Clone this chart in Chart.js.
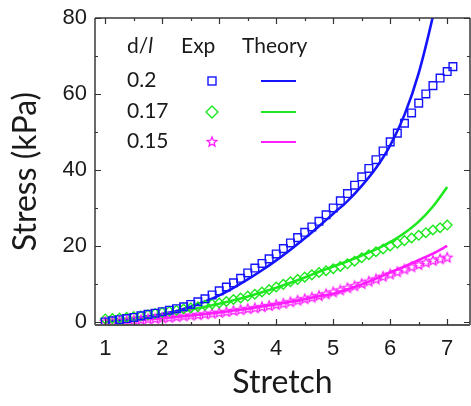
<!DOCTYPE html>
<html>
<head>
<meta charset="utf-8">
<script src="https://cdn.jsdelivr.net/npm/chart.js@4.4.1/dist/chart.umd.min.js"></script>
<style>
  html, body { margin: 0; padding: 0; background: #fff; }
  #wrap { position: relative; width: 471px; height: 406px; }
</style>
</head>
<body>
<div id="wrap"><canvas id="c" width="471" height="406"></canvas></div>
<script>
// ---------- data ----------
const stretchExp = [1.0,1.125,1.25,1.375,1.5,1.625,1.75,1.875,2.0,2.125,2.25,2.375,2.5,2.625,2.75,2.875,
  3.0,3.125,3.25,3.375,3.5,3.625,3.75,3.875,4.0,4.125,4.25,4.375,4.5,4.625,4.75,4.875,
  5.0,5.125,5.25,5.375,5.5,5.625,5.75,5.875,6.0,6.125,6.25,6.375,6.5,6.625,6.75,6.875,7.0];
const stretchBlue = [1.0,1.125,1.25,1.375,1.5,1.625,1.75,1.875,2.0,2.125,2.25,2.375,2.5,2.625,2.75,2.875,
  3.0,3.125,3.25,3.375,3.5,3.625,3.75,3.875,4.0,4.125,4.25,4.375,4.5,4.625,4.75,4.875,
  5.0,5.125,5.25,5.375,5.5,5.625,5.75,5.875,6.0,6.125,6.25,6.375,6.5,6.625,6.75,6.875,7.0,7.1];
const expBlue = [0.0,0.3,0.6,0.9,1.2,1.6,2.0,2.3,2.7,3.1,3.5,4.0,4.6,5.3,6.1,7.1,
  8.2,9.2,10.3,11.5,12.9,14.2,15.4,16.6,17.9,19.3,20.8,22.2,23.6,25.0,26.5,28.2,
  30.0,31.9,33.8,36.0,38.2,40.4,42.7,45.0,47.4,49.7,52.3,55.0,57.6,60.0,62.2,64.2,65.9,67.2];
const expGreen = [0.8,0.9,1.0,1.2,1.4,1.6,1.9,2.2,2.5,2.8,3.1,3.4,3.7,4.0,4.4,4.7,
  5.0,5.4,5.9,6.3,6.8,7.3,7.9,8.5,9.2,9.9,10.6,11.2,11.8,12.4,13.0,13.5,
  14.0,14.6,15.3,16.0,16.9,17.7,18.5,19.2,20.0,20.7,21.4,22.1,22.8,23.5,24.2,24.8,25.5];
const expMagenta = [0.0,0.1,0.2,0.3,0.4,0.5,0.7,0.8,1.0,1.1,1.3,1.5,1.7,1.8,2.0,2.2,
  2.4,2.6,2.9,3.1,3.4,3.6,3.9,4.2,4.5,4.8,5.2,5.6,6.0,6.4,6.8,7.3,
  7.8,8.3,8.9,9.4,10.0,10.6,11.2,11.9,12.5,13.1,13.8,14.4,15.0,15.6,16.1,16.5,16.9];

const stretchTheory = [1.0,1.25,1.5,1.75,2.0,2.25,2.5,2.75,3.0,3.25,3.5,3.75,4.0,4.25,4.5,4.75,
  5.0,5.25,5.5,5.75,6.0,6.25,6.5,6.75,7.0];
const theoryBlue = [0.0,0.3,0.8,1.4,2.1,2.9,4.0,5.4,7.0,9.0,11.2,13.6,16.2,19.0,22.0,25.2,
  28.5,31.8,35.8,40.5,46.5,54.5,65.5,80.5,98.0];
const theoryGreen = [0.3,0.6,1.0,1.5,2.1,2.7,3.3,4.0,4.8,5.7,6.7,7.8,9.0,10.3,11.7,13.2,
  14.6,16.0,17.5,19.1,21.0,23.4,26.4,30.4,35.5];
const theoryMagenta = [0.0,0.2,0.4,0.7,1.0,1.3,1.7,2.1,2.5,3.0,3.5,4.1,4.7,5.3,6.0,6.8,
  7.4,8.6,9.9,11.4,13.0,14.6,16.3,18.0,20.0];

const ratioLabels = ['0.2', '0.17', '0.15'];
const xTicks = [1, 2, 3, 4, 5, 6, 7];
const yTicks = [0, 20, 40, 60, 80];
const X_MIN = 0.82, X_MAX = 7.4, Y_MIN = -0.8, Y_MAX = 80;

// ---------- styles ----------
const BLUE = '#1414ff', GREEN = '#1ee81e', MAGENTA = '#ff1eff';
const TEXT = '#1a1a1a';

function starCanvas(color, r) {
  const s = Math.ceil(2 * r + 4);
  const c = document.createElement('canvas');
  c.width = s; c.height = s;
  const g = c.getContext('2d');
  g.strokeStyle = color; g.lineWidth = 1.3; g.lineJoin = 'miter';
  g.beginPath();
  for (let i = 0; i < 10; i++) {
    const rr = i % 2 === 0 ? r : r * 0.45;
    const a = -Math.PI / 2 + i * Math.PI / 5;
    const px = s / 2 + rr * Math.cos(a), py = s / 2 + rr * Math.sin(a);
    i === 0 ? g.moveTo(px, py) : g.lineTo(px, py);
  }
  g.closePath(); g.stroke();
  return c;
}
const starImg = starCanvas(MAGENTA, 5);

const pts = (xs, ys) => xs.map((x, i) => ({ x: x, y: ys[i] }));

const theoryStyle = (color) => ({
  showLine: true, pointRadius: 0, borderColor: color, backgroundColor: color,
  borderWidth: 2.6, cubicInterpolationMode: 'monotone', clip: { left: 2, right: 2, top: 0, bottom: 4 }
});
const expStyle = (color, style, r) => ({
  showLine: false, pointStyle: style, pointRadius: r, pointBorderColor: color,
  pointBackgroundColor: 'rgba(0,0,0,0)', pointBorderWidth: 1.4, borderColor: color
});

// ---------- plugins ----------
const frame = {
  id: 'frame',
  afterDraw(chart) {
    const { ctx, chartArea: a, scales } = chart;
    const xs = scales.x, ys = scales.y;
    ctx.save();
    ctx.strokeStyle = '#3a3a3a';
    ctx.lineWidth = 1.5;
    ctx.beginPath();
    ctx.moveTo(a.left, a.top); ctx.lineTo(a.right, a.top);
    ctx.moveTo(a.left, a.top); ctx.lineTo(a.left, a.bottom);
    ctx.moveTo(a.right, a.top); ctx.lineTo(a.right, a.bottom);
    ctx.stroke();
    ctx.strokeStyle = '#555';
    ctx.lineWidth = 2;
    ctx.beginPath();
    ctx.moveTo(a.left, a.bottom); ctx.lineTo(a.right, a.bottom);
    ctx.stroke();
    // inward ticks
    ctx.strokeStyle = '#333'; ctx.lineWidth = 1.2;
    ctx.beginPath();
    for (let v = 1; v <= 7.01; v += 0.5) {
      const px = Math.round(xs.getPixelForValue(v)) + 0.5;
      const L = Number.isInteger(v) ? 6 : 3;
      ctx.moveTo(px, a.bottom); ctx.lineTo(px, a.bottom - L);
      ctx.moveTo(px, a.top); ctx.lineTo(px, a.top + L);
    }
    for (let v = 0; v <= 80; v += 10) {
      const py = Math.round(ys.getPixelForValue(v)) + 0.5;
      const L = v % 20 === 0 ? 6 : 3;
      ctx.moveTo(a.left, py); ctx.lineTo(a.left + L, py);
      ctx.moveTo(a.right, py); ctx.lineTo(a.right - L, py);
    }
    ctx.stroke();
    ctx.restore();
  }
};

const customLegend = {
  id: 'customLegend',
  afterDraw(chart) {
    const { ctx, chartArea: a } = chart;
    const ox = a.left, oy = a.top;
    ctx.save();
    ctx.fillStyle = TEXT;
    ctx.textBaseline = 'alphabetic';
    ctx.textAlign = 'left';
    ctx.font = '21px Lato';
    ctx.fillText('d/', ox + 32, oy + 35);
    const w = ctx.measureText('d/').width;
    ctx.font = 'italic 21px Lato';
    ctx.fillText('l', ox + 32 + w, oy + 35);
    ctx.font = '21px Lato';
    ctx.fillText('Exp', ox + 86, oy + 35);
    ctx.fillText('Theory', ox + 147, oy + 35);
    const rowsY = [69, 100, 130];
    const colors = [BLUE, GREEN, MAGENTA];
    ratioLabels.forEach((lab, i) => {
      ctx.fillStyle = TEXT;
      ctx.fillText(lab, ox + 32, oy + rowsY[i]);
      const my = oy + rowsY[i] - 6;
      const mx = ox + 117;
      ctx.strokeStyle = colors[i];
      ctx.lineWidth = 1.4;
      if (i === 0) {
        ctx.strokeRect(mx - 4, my - 4, 8, 8);
      } else if (i === 1) {
        ctx.beginPath();
        ctx.moveTo(mx, my - 6); ctx.lineTo(mx + 6, my); ctx.lineTo(mx, my + 6); ctx.lineTo(mx - 6, my);
        ctx.closePath(); ctx.stroke();
      } else {
        ctx.drawImage(starImg, mx - starImg.width / 2, my - starImg.height / 2);
      }
      ctx.lineWidth = 2.2;
      ctx.beginPath();
      ctx.moveTo(ox + 166, my); ctx.lineTo(ox + 201, my);
      ctx.stroke();
    });
    ctx.restore();
  }
};

// ---------- chart ----------
new Chart(document.getElementById('c'), {
  type: 'scatter',
  data: {
    datasets: [
      Object.assign({ label: 'Exp 0.2', data: pts(stretchBlue, expBlue) }, expStyle(BLUE, 'rect', 5.4)),
      Object.assign({ label: 'Exp 0.17', data: pts(stretchExp, expGreen) }, expStyle(GREEN, 'rectRot', 4.8)),
      Object.assign({ label: 'Exp 0.15', data: pts(stretchExp, expMagenta) }, expStyle(MAGENTA, starImg, 5)),
      Object.assign({ label: 'Theory 0.2', data: pts(stretchTheory, theoryBlue) }, theoryStyle(BLUE)),
      Object.assign({ label: 'Theory 0.17', data: pts(stretchTheory, theoryGreen) }, theoryStyle(GREEN)),
      Object.assign({ label: 'Theory 0.15', data: pts(stretchTheory, theoryMagenta) }, theoryStyle(MAGENTA))
    ]
  },
  options: {
    responsive: false,
    animation: false,
    events: [],
    layout: { autoPadding: false, padding: { top: 18, right: 1, left: 0, bottom: 0 } },
    plugins: { legend: { display: false }, tooltip: { enabled: false } },
    scales: {
      x: {
        type: 'linear', min: X_MIN, max: X_MAX,
        grid: { display: false, drawTicks: false },
        border: { display: false },
        afterBuildTicks: s => { s.ticks = [X_MIN].concat(xTicks, [X_MAX]).map(v => ({ value: v })); },
        afterFit: s => { s.height = 81; s.paddingLeft = 0; s.paddingRight = 0; },
        ticks: {
          padding: 11, color: TEXT, font: { family: 'Liberation Sans', size: 22 }, maxRotation: 0, autoSkip: false,
          callback: v => xTicks.includes(v) ? String(v) : ''
        },
        title: { display: true, text: 'Stretch', color: TEXT, font: { family: 'Lato', size: 32 }, padding: { top: 0, bottom: 4 } }
      },
      y: {
        type: 'linear', min: Y_MIN, max: Y_MAX,
        grid: { display: false, drawTicks: false },
        border: { display: false },
        afterBuildTicks: s => { s.ticks = yTicks.map(v => ({ value: v })); },
        afterFit: s => { s.width = 95; s.paddingTop = 0; s.paddingBottom = 0; },
        ticks: { padding: 8, color: TEXT, font: { family: 'Liberation Sans', size: 22 }, autoSkip: false },
        title: { display: true, text: 'Stress (kPa)', color: TEXT, font: { family: 'Lato', size: 32 }, padding: { top: 6, bottom: 0 } }
      }
    }
  },
  plugins: [frame, customLegend]
});
</script>
</body>
</html>
